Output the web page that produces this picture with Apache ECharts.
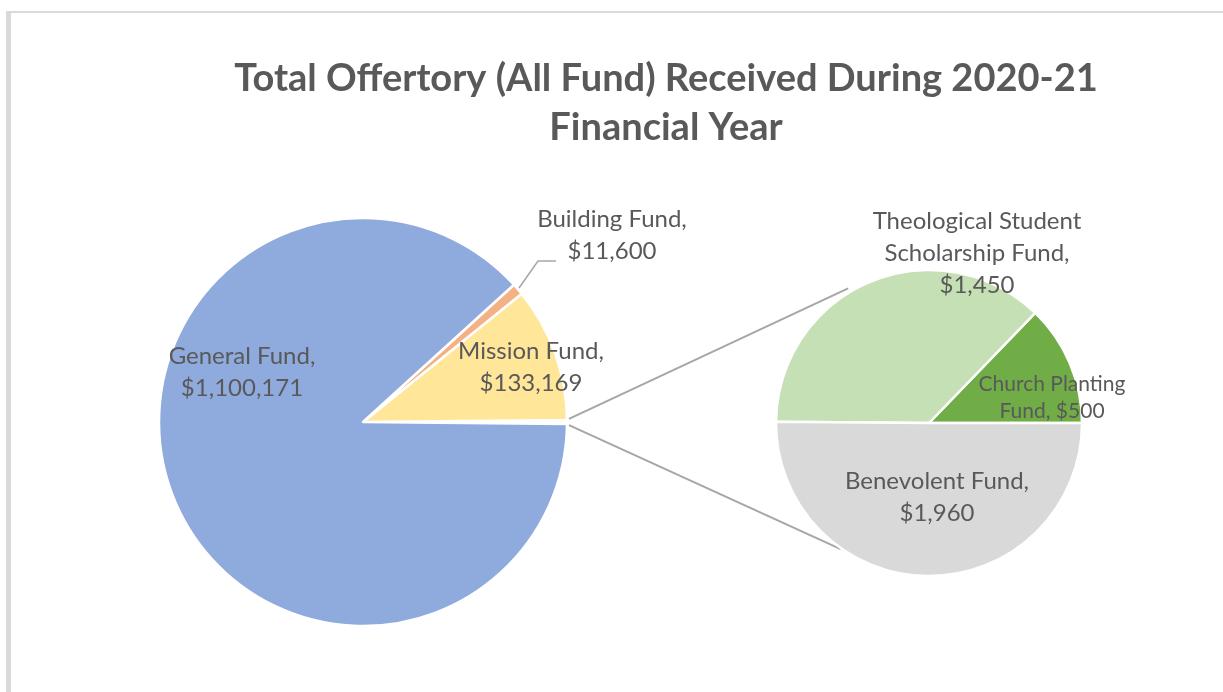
<!DOCTYPE html>
<html>
<head>
<meta charset="utf-8">
<script src="https://cdn.jsdelivr.net/npm/echarts@6/dist/echarts.min.js"></script>
<style>
html,body{margin:0;padding:0;background:#fff;}
#chart{width:1223px;height:692px;}
</style>
</head>
<body>
<div id="chart"></div>
<script>
// ---- data ----
const mainNames = ['Mission Fund', 'Building Fund', 'General Fund'];
const mainValues = [133169, 11600, 1100171];
const mainLabelPrefix = ['Mission Fund,\n', 'Building Fund,\n', 'General Fund,\n'];
const subNames = ['Church Planting Fund', 'Theological Student Scholarship Fund', 'Benevolent Fund'];
const subValues = [500, 1450, 1960];
const subLabelPrefix = ['Church Planting\nFund, ', 'Theological Student\nScholarship Fund,\n', 'Benevolent Fund,\n'];
const titleText = 'Total Offertory (All Fund) Received During 2020-21\nFinancial Year';

// ---- layout / style ----
const FONT = 'Lato, "Open Sans", sans-serif';
const TXT = '#595959';
const mainC = [363, 422], mainR = 204;
const subC = [929, 423], subR = 153;
const mainColors = ['#ffffff', '#FFE699', '#F4B183', '#8FAADC'];
const subColors = ['#70AD47', '#C5E0B4', '#D9D9D9'];

const otherValue = subValues.reduce((a, b) => a + b, 0);
const mainTotal = otherValue + mainValues.reduce((a, b) => a + b, 0);
const otherAngle = otherValue / mainTotal * 360;

const fmt = v => '$' + v.toLocaleString('en-US');

// label placement offsets relative to pie centres
const mainLabelOffsets = [null, [168, -55], [249, -187], [-121, -50]];
const subLabelOffsets = [[123, -25], [48, -170], [8, 74]];

const mainData = [{ name: 'Other', value: otherValue, label: { show: false }, labelLine: { show: false } }]
  .concat(mainNames.map((n, i) => ({
    name: n,
    value: mainValues[i],
    label: i === 1 ? { position: 'outside' } : { position: 'inside' },
    labelLine: { show: i === 1 }
  })));

const subData = subNames.map((n, i) => ({
  name: n,
  value: subValues[i],
  label: i === 0 ? { fontSize: 21, lineHeight: 27 } : {}
}));

const chart = echarts.init(document.getElementById('chart'), null, { renderer: 'canvas' });

function pt(c, r, deg) {
  const a = deg * Math.PI / 180;
  return [c[0] + r * Math.cos(a), c[1] - r * Math.sin(a)];
}

// connector lines from "Other" slice edges to the secondary pie
const topStart = pt(mainC, mainR + 2, otherAngle / 2 + 0.3);
const botStart = pt(mainC, mainR + 2, -otherAngle / 2 - 0.3);
const topEnd = pt(subC, subR + 4, 121);
const botEnd = pt(subC, subR + 1, -125);

chart.setOption({
  animation: false,
  backgroundColor: '#ffffff',
  graphic: [
    { type: 'rect', shape: { x: 6, y: 11, width: 5, height: 681 }, style: { fill: '#D9D9D9' }, silent: true },
    { type: 'rect', shape: { x: 6, y: 11, width: 1217, height: 2 }, style: { fill: '#D9D9D9' }, silent: true },
    { type: 'text', x: 666, y: 103, style: { text: titleText, font: 'bold 38px ' + FONT, fill: TXT, textAlign: 'center', textVerticalAlign: 'middle', lineHeight: 49 }, silent: true },
    { type: 'line', shape: { x1: topStart[0], y1: topStart[1], x2: topEnd[0], y2: topEnd[1] }, style: { stroke: '#A6A6A6', lineWidth: 2 }, silent: true },
    { type: 'line', shape: { x1: botStart[0], y1: botStart[1], x2: botEnd[0], y2: botEnd[1] }, style: { stroke: '#A6A6A6', lineWidth: 2 }, silent: true }
  ],
  series: [
    {
      type: 'pie',
      center: mainC,
      radius: mainR,
      clockwise: false,
      startAngle: -otherAngle / 2,
      avoidLabelOverlap: false,
      silent: true,
      data: mainData,
      color: mainColors,
      itemStyle: { borderColor: '#ffffff', borderWidth: 2.5 },
      label: {
        color: TXT, fontFamily: FONT, fontSize: 24, lineHeight: 32,
        formatter: p => mainLabelPrefix[p.dataIndex - 1] + fmt(p.value)
      },
      labelLine: { lineStyle: { color: '#A6A6A6', width: 1.5 } },
      labelLayout: function (p) {
        const o = mainLabelOffsets[p.dataIndex];
        if (!o) return {};
        const res = { x: mainC[0] + o[0], y: mainC[1] + o[1], align: 'center', verticalAlign: 'middle' };
        if (p.dataIndex === 2) {
          res.labelLinePoints = [
            [mainC[0] + 156, mainC[1] - 134],
            [mainC[0] + 175, mainC[1] - 161],
            [mainC[0] + 193, mainC[1] - 161]
          ];
        }
        return res;
      }
    },
    {
      type: 'pie',
      center: subC,
      radius: subR,
      clockwise: false,
      startAngle: 0,
      avoidLabelOverlap: false,
      silent: true,
      data: subData,
      color: subColors,
      itemStyle: { borderColor: '#ffffff', borderWidth: 2.5 },
      label: {
        position: 'inside',
        color: TXT, fontFamily: FONT, fontSize: 24, lineHeight: 32,
        formatter: p => subLabelPrefix[p.dataIndex] + fmt(p.value)
      },
      labelLine: { show: false },
      labelLayout: function (p) {
        const o = subLabelOffsets[p.dataIndex];
        return { x: subC[0] + o[0], y: subC[1] + o[1], align: 'center', verticalAlign: 'middle' };
      }
    }
  ]
});
</script>
</body>
</html>
